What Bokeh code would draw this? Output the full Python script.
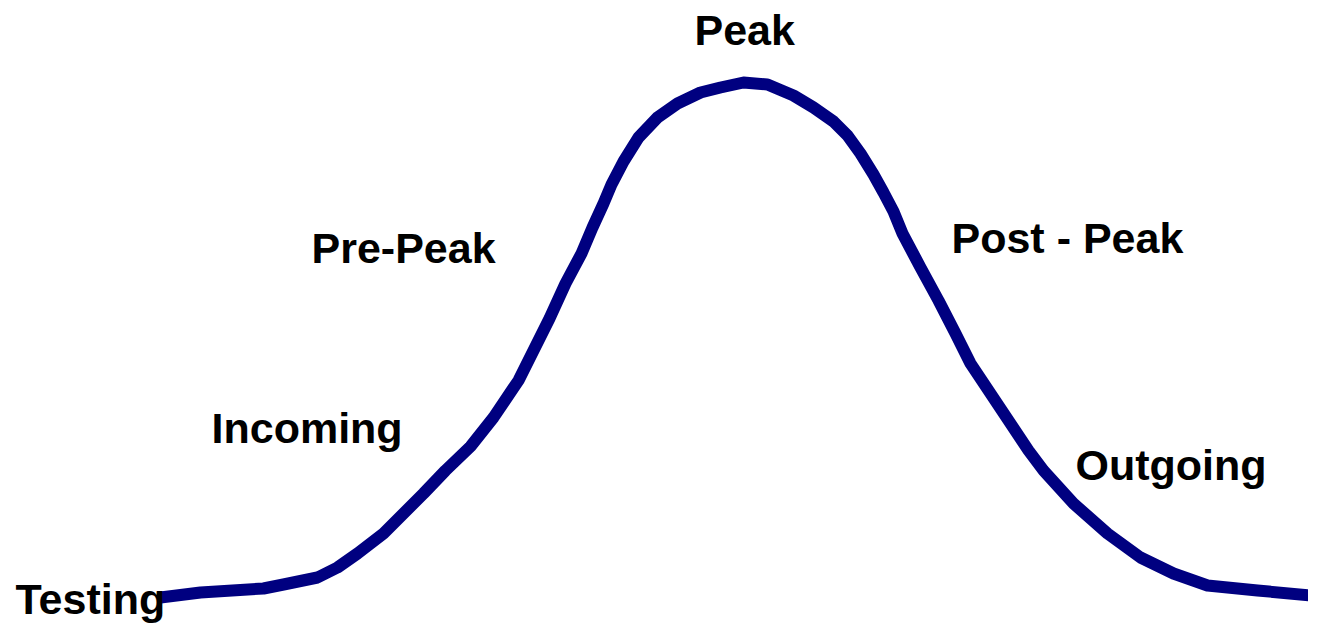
from bokeh.plotting import figure
from bokeh.models import Range1d, ColumnDataSource
from bokeh.core.properties import value
from bokeh.embed import file_html
from bokeh.resources import INLINE

# Curve (x position, height above the bottom edge)
curve_x = [160, 200, 263, 283, 317, 337, 357, 383, 403, 423, 445, 470, 493, 518, 533,
           549, 565, 581, 592, 603, 611, 623, 638, 657, 677, 700, 720, 743, 767, 793,
           813, 833, 847, 860, 873, 883, 893, 902, 920, 938, 955, 970, 990, 1008, 1028,
           1043, 1073, 1107, 1140, 1173, 1207, 1257, 1322]
curve_y = [45, 50, 54, 58, 65, 75, 89, 109, 129, 149, 172, 196, 225, 262, 292,
           324, 359, 389, 415, 439, 458, 481, 505, 525, 539, 550, 555, 560, 558, 547,
           535, 521, 507, 489, 468, 450, 431, 409, 375, 342, 309, 279, 249, 222, 192,
           172, 139, 109, 85, 69, 57, 52, 46]

# Stage labels
label_text = ["Peak", "Testing", "Pre-Peak", "Incoming", "Post - Peak", "Outgoing"]
label_x = [694, 15, 311, 211, 951, 1075]
label_y = [613, 44, 395, 215, 405, 178]

W, H = 1308, 626
p = figure(width=W, height=H, output_backend="svg", toolbar_location=None,
           x_range=Range1d(0, W), y_range=Range1d(642 - H, 642),
           min_border=0, min_border_left=0, min_border_right=0,
           min_border_top=0, min_border_bottom=0)
p.xaxis.visible = False
p.yaxis.visible = False
p.grid.visible = False
p.outline_line_color = None
p.background_fill_color = "white"
p.border_fill_color = "white"

p.line(curve_x, curve_y, line_color="#000080", line_width=12, line_join="round")

src = ColumnDataSource(dict(x=label_x, y=label_y, t=label_text))
p.text(x="x", y="y", text="t", source=src, text_font=value("Liberation Sans"),
       text_font_style="bold", text_font_size="43px", text_color="black",
       text_align="left", text_baseline="alphabetic")

open("out.html", "w").write(file_html(p, INLINE))
